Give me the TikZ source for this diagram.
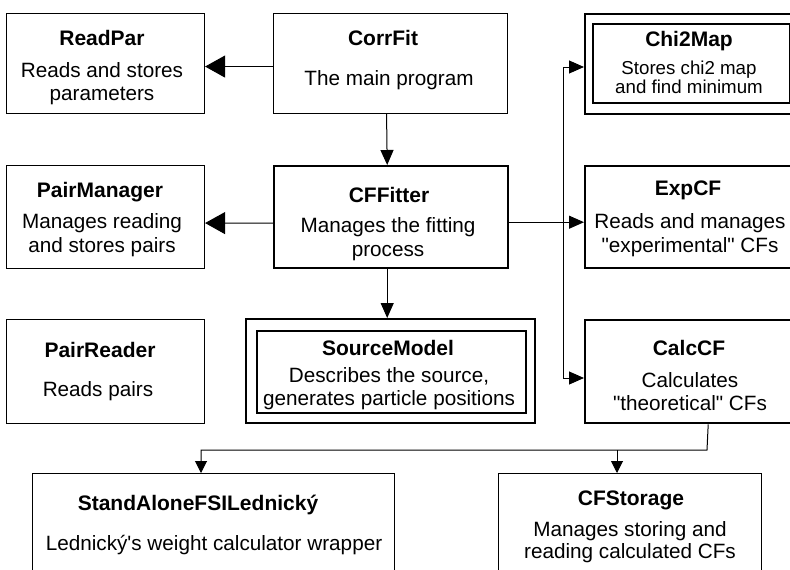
\documentclass[tikz,border=0pt]{standalone}
\usepackage{fontspec}
\setmainfont{Liberation Sans}
\usetikzlibrary{arrows.meta}
\begin{document}
\begin{tikzpicture}[x=1pt,y=-1pt,
  thinbox/.style={draw, line width=1.1pt, inner sep=0pt, anchor=north west},
  thickbox/.style={draw, line width=2.4pt, inner sep=0pt, anchor=north west},
  ttl/.style={anchor=base, inner sep=0pt, font=\fontsize{21}{24}\selectfont\bfseries},
  dsc/.style={anchor=base, inner sep=0pt, font=\fontsize{20.7}{24}\selectfont},
  sdsc/.style={anchor=base, inner sep=0pt, font=\fontsize{18.7}{20}\selectfont},
  conn/.style={line width=1pt},
  bigarr/.style={conn, -{Triangle[length=20pt,width=22pt]}},
  medarr/.style={conn, -{Triangle[length=15pt,width=13pt]}},
  smallarr/.style={conn, -{Triangle[length=12pt,width=12pt]}},
]
\useasboundingbox (0,0) rectangle (790,570);
\clip (0,0) rectangle (790,570);

% boxes
\node[thinbox, minimum width=198pt, minimum height=100pt] (readpar) at (6,13) {};
\node[thinbox, minimum width=234pt, minimum height=100pt] (corrfit) at (273,13) {};
\node[thickbox, minimum width=246pt, minimum height=100pt] (chi2o) at (584,13) {};
\node[thickbox, minimum width=197pt, minimum height=79pt] (chi2i) at (592,23) {};
\node[thinbox, minimum width=198pt, minimum height=103pt] (pairman) at (6,165) {};
\node[thickbox, minimum width=234pt, minimum height=102pt] (cffitter) at (273,165) {};
\node[thickbox, minimum width=246pt, minimum height=102pt] (expcf) at (584,165) {};
\node[thinbox, minimum width=198pt, minimum height=104pt] (pairreader) at (6,319) {};
\node[thickbox, minimum width=289pt, minimum height=104pt] (sourceo) at (245,318) {};
\node[thickbox, minimum width=269pt, minimum height=82pt] (sourcei) at (256,330) {};
\node[thickbox, minimum width=246pt, minimum height=103pt] (calc) at (584,319) {};
\node[thinbox, minimum width=362pt, minimum height=130pt] (standalone) at (32,473) {};
\node[thinbox, minimum width=263pt, minimum height=130pt] (cfstorage) at (498,473) {};

% texts
\node[ttl] (readparT) at (102,45) {ReadPar};
\node[dsc] (readparA) at (102,77) {Reads and stores};
\node[dsc] (readparB) at (102,100) {parameters};

\node[ttl] (corrfitT) at (383,45) {CorrFit};
\node[dsc] (corrfitA) at (389,85) {The main program};

\node[ttl] (chi2T) at (689,46) {Chi2Map};
\node[sdsc] (chi2A) at (689,74) {Stores chi2 map};
\node[sdsc] (chi2B) at (689,93) {and find minimum};

\node[ttl] (pairmanT) at (100,197) {PairManager};
\node[dsc] (pairmanA) at (102,228) {Manages reading};
\node[dsc] (pairmanB) at (102,252) {and stores pairs};

\node[ttl] (cffitterT) at (389,202) {CFFitter};
\node[dsc] (cffitterA) at (388,232) {Manages the fitting};
\node[dsc] (cffitterB) at (388,256) {process};

\node[ttl] (expcfT) at (688,195) {ExpCF};
\node[dsc] (expcfA) at (690,228) {Reads and manages};
\node[dsc] (expcfB) at (690,252) {\textquotedbl experimental\textquotedbl{} CFs};

\node[ttl] (pairreaderT) at (100,357) {PairReader};
\node[dsc] (pairreaderA) at (98,396) {Reads pairs};

\node[ttl] (sourceT) at (388,355) {SourceModel};
\node[dsc] (sourceA) at (389,382) {Describes the source,};
\node[dsc] (sourceB) at (389,405) {generates particle positions};

\node[ttl] (calcT) at (689,355) {CalcCF};
\node[dsc] (calcA) at (690,387) {Calculates};
\node[dsc] (calcB) at (690,410) {\textquotedbl theoretical\textquotedbl{} CFs};

\node[ttl] (standaloneT) at (198,510) {StandAloneFSILednický};
\node[dsc] (standaloneA) at (214,550) {Lednický\textquotesingle s weight calculator wrapper};

\node[ttl] (cfstorageT) at (631,505) {CFStorage};
\node[dsc] (cfstorageA) at (630,536) {Manages storing and};
\node[dsc] (cfstorageB) at (630,558) {reading calculated CFs};

% connectors
\draw[bigarr] ([yshift=-3pt]corrfit.west) -- ([yshift=-3pt]readpar.east);
\draw[medarr] ([xshift=-4pt]corrfit.south) -- ([xshift=-4pt]cffitter.north);
\draw[bigarr] ([yshift=-6pt]cffitter.west) -- ([yshift=-6pt]pairman.east);
\draw[medarr] ([yshift=-5pt]cffitter.east) -- ([yshift=-5pt]expcf.west);
\draw[medarr] ([xshift=-4pt]cffitter.south) -- ([xshift=-4pt]cffitter.south |- sourceo.north);

\coordinate (bt) at (563,67);
\coordinate (bb) at (563,378);
\draw[conn] (bt) -- (bb);
\draw[medarr] (bt) -- (bt -| chi2o.west);
\draw[medarr] (bb) -- (bb -| calc.west);

\coordinate (j) at (707,450);
\coordinate (sain) at (201,473);
\coordinate (cfsin) at (617,473);
\draw[smallarr] (calc.south) -- (j) -| (sain);
\draw[smallarr] (j -| cfsin) -- (cfsin);
\end{tikzpicture}
\end{document}
